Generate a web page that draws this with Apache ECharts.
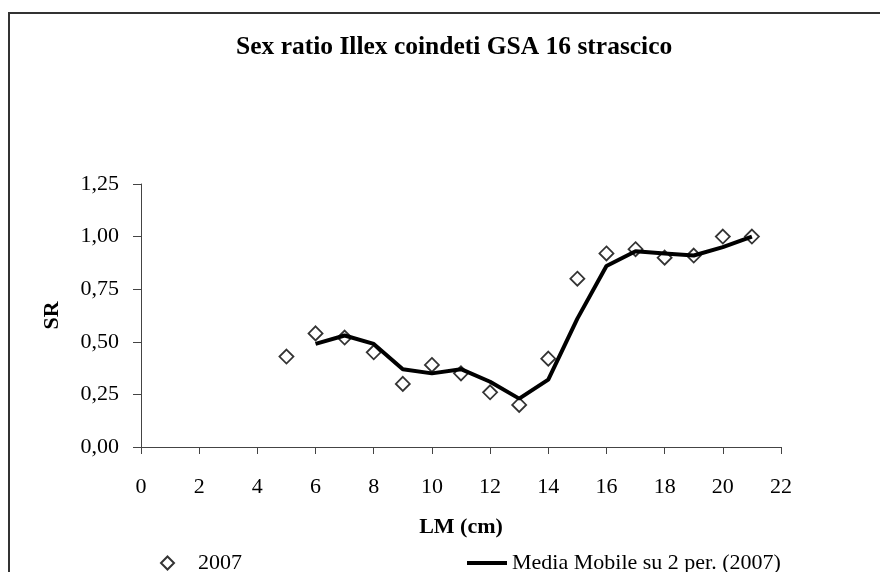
<!DOCTYPE html>
<html>
<head>
<meta charset="utf-8">
<script src="https://cdn.jsdelivr.net/npm/echarts@6/dist/echarts.min.js"></script>
<style>
  html, body { margin: 0; padding: 0; background: #fff; }
  #chart { width: 880px; height: 572px; }
</style>
</head>
<body>
<div id="chart"></div>
<script>
// LM (cm) classes and sex ratio, 2007
const lengths = [5, 6, 7, 8, 9, 10, 11, 12, 13, 14, 15, 16, 17, 18, 19, 20, 21];
const ratio2007 = [0.43, 0.54, 0.52, 0.45, 0.30, 0.39, 0.35, 0.26, 0.20, 0.42, 0.80, 0.92, 0.94, 0.90, 0.91, 1.00, 1.00];

// moving average (2 periods)
const maLengths = [6, 7, 8, 9, 10, 11, 12, 13, 14, 15, 16, 17, 18, 19, 20, 21];
const movingAvg = [0.49, 0.53, 0.49, 0.37, 0.35, 0.37, 0.31, 0.23, 0.32, 0.61, 0.86, 0.93, 0.92, 0.91, 0.95, 1.00];

const xTicks = [0, 2, 4, 6, 8, 10, 12, 14, 16, 18, 20, 22];
const yTicks = [0, 0.25, 0.5, 0.75, 1, 1.25];

const serif = '"Liberation Serif", "Times New Roman", serif';
const chart = echarts.init(document.getElementById("chart"));

chart.setOption({
  animation: false,
  backgroundColor: "#fff",
  textStyle: { fontFamily: serif, color: "#000" },
  graphic: [
    {
      type: "rect",
      shape: { x: 9, y: 13, width: 900, height: 600 },
      style: { fill: "none", stroke: "#333", lineWidth: 2 },
      silent: true
    }
  ],
  title: {
    text: "Sex ratio Illex coindeti GSA 16 strascico",
    left: 236,
    top: 34,
    padding: 0,
    textStyle: { fontFamily: serif, fontSize: 25.5, fontWeight: "bold", color: "#000" }
  },
  legend: [
    {
      data: ["2007"],
      left: 160,
      top: 552,
      padding: 0,
      icon: "diamond",
      itemWidth: 13,
      itemHeight: 13,
      textStyle: { fontFamily: serif, fontSize: 22, color: "#000", padding: [0, 0, 0, 19] }
    },
    {
      data: ["Media Mobile su 2 per. (2007)"],
      left: 467,
      top: 552,
      padding: 0,
      icon: "rect",
      itemWidth: 40,
      itemHeight: 4,
      itemStyle: { color: "#000" },
      textStyle: { fontFamily: serif, fontSize: 22, color: "#000" }
    }
  ],
  grid: { left: 141, right: 99, top: 184, bottom: 125, containLabel: false },
  xAxis: {
    type: "value",
    min: xTicks[0],
    max: xTicks[xTicks.length - 1],
    interval: 2,
    name: "LM (cm)",
    nameLocation: "middle",
    nameGap: 69,
    nameTextStyle: { fontFamily: serif, fontSize: 22, fontWeight: "bold", color: "#000" },
    axisLine: { lineStyle: { color: "#444", width: 1 } },
    axisTick: { show: true, length: 7, lineStyle: { color: "#444" } },
    axisLabel: { margin: 29, fontFamily: serif, fontSize: 22, color: "#000" },
    splitLine: { show: false }
  },
  yAxis: {
    type: "value",
    min: yTicks[0],
    max: yTicks[yTicks.length - 1],
    interval: 0.25,
    name: "SR",
    nameLocation: "middle",
    nameRotate: 90,
    nameGap: 78,
    nameTextStyle: { fontFamily: serif, fontSize: 22, fontWeight: "bold", color: "#000" },
    axisLine: { show: true, lineStyle: { color: "#444", width: 1 } },
    axisTick: { show: true, length: 8, lineStyle: { color: "#444" } },
    axisLabel: {
      margin: 22,
      fontFamily: serif,
      fontSize: 22,
      color: "#000",
      formatter: v => v.toFixed(2).replace(".", ",")
    },
    splitLine: { show: false }
  },
  series: [
    {
      name: "2007",
      type: "scatter",
      z: 2,
      symbol: "diamond",
      symbolSize: 14,
      itemStyle: { color: "#fff", borderColor: "#000", borderWidth: 1.8 },
      data: lengths.map((x, i) => [x, ratio2007[i]])
    },
    {
      name: "Media Mobile su 2 per. (2007)",
      type: "line",
      z: 3,
      symbol: "none",
      showSymbol: false,
      lineStyle: { color: "#000", width: 4 },
      itemStyle: { color: "#000" },
      data: maLengths.map((x, i) => [x, movingAvg[i]])
    }
  ]
});
</script>
</body>
</html>
